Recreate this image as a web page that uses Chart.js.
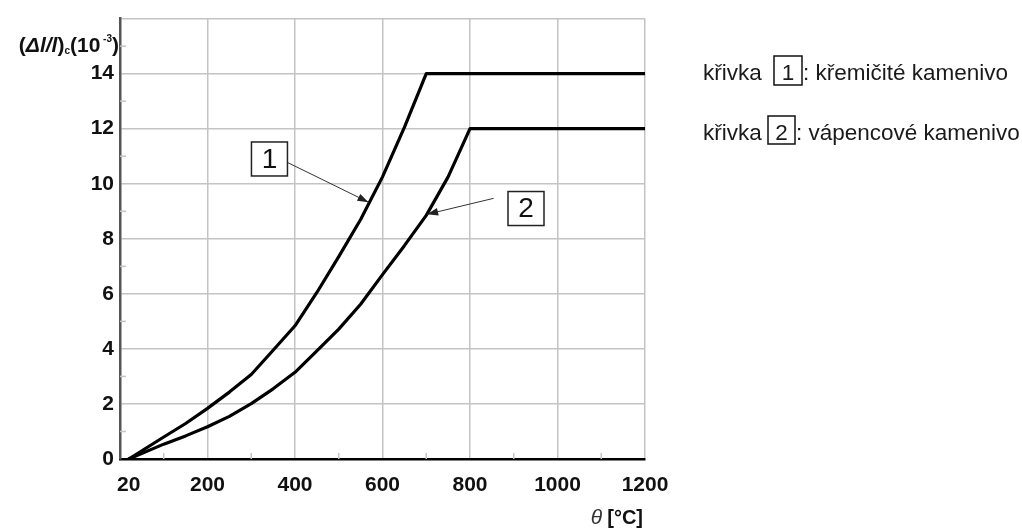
<!DOCTYPE html>
<html><head><meta charset="utf-8">
<script src="https://cdn.jsdelivr.net/npm/chart.js@4/dist/chart.umd.min.js"></script>
<style>html,body{margin:0;padding:0;background:#fff;}canvas{display:block;}</style>
</head><body>
<canvas id="c" width="1022" height="532"></canvas>
<script>
// ---- data ----
const temperatures = [20, 100, 150, 200, 250, 300, 350, 400, 450, 500, 550, 600, 650, 700, 750, 800, 1200];
const curve1 = [0, 0.8, 1.29, 1.84, 2.43, 3.07, 3.95, 4.84, 6.05, 7.35, 8.7, 10.25, 12.05, 14, 14, 14, 14];
const curve2 = [0, 0.54, 0.84, 1.17, 1.55, 2.01, 2.55, 3.15, 3.93, 4.72, 5.62, 6.7, 7.75, 8.85, 10.25, 12, 12];
const xTickValues = [20, 200, 400, 600, 800, 1000, 1200];
const xMinorValues = [100, 300, 500, 700, 900, 1100];
const yMinorValues = [1, 3, 5, 7, 9, 11, 13, 15];
const curveNames = ['1', '2'];
const curveDescriptions = ['křemičité kamenivo', 'vápencové kamenivo'];
const legendWord = 'křivka';

// callout positions (data units)
const callouts = [
  {label: curveNames[0], box: {x: 341.6, y: 10.9}, from: {x: 373, y: 10.85}, to: {x: 568, y: 9.33}},
  {label: curveNames[1], box: {x: 928, y: 9.1}, from: {x: 854, y: 9.47}, to: {x: 702, y: 8.89}}
];

const FONT = "'Liberation Sans', Arial, sans-serif";
const pts = (xs, ys) => xs.map((x, i) => ({x, y: ys[i]}));

const extras = {
  id: 'extras',
  afterDatasetsDraw(chart) {
    const {ctx, chartArea: a, scales: {x, y}} = chart;
    ctx.save();
    // minor ticks
    ctx.strokeStyle = '#c4c4c4';
    ctx.lineWidth = 1.5;
    yMinorValues.forEach(v => {
      const py = y.getPixelForValue(v);
      ctx.beginPath(); ctx.moveTo(a.left, py); ctx.lineTo(a.left + 6, py); ctx.stroke();
    });
    xMinorValues.forEach(v => {
      const px = x.getPixelForValue(v);
      ctx.beginPath(); ctx.moveTo(px, a.bottom); ctx.lineTo(px, a.bottom - 6); ctx.stroke();
    });
    // callouts
    callouts.forEach(c => {
      const fx = x.getPixelForValue(c.from.x), fy = y.getPixelForValue(c.from.y);
      const tx = x.getPixelForValue(c.to.x), ty = y.getPixelForValue(c.to.y);
      ctx.strokeStyle = '#333'; ctx.fillStyle = '#222'; ctx.lineWidth = 1;
      ctx.beginPath(); ctx.moveTo(fx, fy); ctx.lineTo(tx, ty); ctx.stroke();
      const ang = Math.atan2(ty - fy, tx - fx), L = 11, W = 3.8;
      ctx.beginPath();
      ctx.moveTo(tx, ty);
      ctx.lineTo(tx - L * Math.cos(ang) + W * Math.sin(ang), ty - L * Math.sin(ang) - W * Math.cos(ang));
      ctx.lineTo(tx - L * Math.cos(ang) - W * Math.sin(ang), ty - L * Math.sin(ang) + W * Math.cos(ang));
      ctx.closePath(); ctx.fill();
      const bx = x.getPixelForValue(c.box.x), by = y.getPixelForValue(c.box.y);
      ctx.fillStyle = '#fff';
      ctx.fillRect(bx - 18, by - 17, 36, 34);
      ctx.strokeStyle = '#222'; ctx.lineWidth = 1.5;
      ctx.strokeRect(bx - 18, by - 17, 36, 34);
      ctx.fillStyle = '#111';
      ctx.font = '28px ' + FONT;
      ctx.textAlign = 'center'; ctx.textBaseline = 'middle';
      ctx.fillText(c.label, bx, by + 1);
    });
    ctx.restore();
  },
  afterDraw(chart) {
    const {ctx} = chart;
    ctx.save();
    ctx.fillStyle = '#111';
    ctx.textBaseline = 'middle';
    // y-axis title: (Δl/l)c(10^-3)
    const parts = [
      {t: '(', f: 'bold 21px ' + FONT, dy: 0},
      {t: 'Δl/l', f: 'italic bold 21px ' + FONT, dy: 0},
      {t: ')', f: 'bold 21px ' + FONT, dy: 0},
      {t: 'c', f: 'bold 10px ' + FONT, dy: 5},
      {t: '(10', f: 'bold 21px ' + FONT, dy: 0},
      {t: ' -3', f: 'bold 10px ' + FONT, dy: -7},
      {t: ')', f: 'bold 21px ' + FONT, dy: 0}
    ];
    let total = 0;
    parts.forEach(p => { ctx.font = p.f; p.w = ctx.measureText(p.t).width; total += p.w; });
    let cx = 119 - total;
    ctx.textAlign = 'left';
    parts.forEach(p => { ctx.font = p.f; ctx.fillText(p.t, cx, 46 + p.dy); cx += p.w; });
    // x-axis title: θ [°C]
    ctx.textAlign = 'right';
    ctx.font = 'bold 20px ' + FONT;
    const unit = '[°C]';
    const uw = ctx.measureText(unit).width;
    ctx.fillText(unit, 643, 518);
    ctx.font = 'italic 21px ' + FONT;
    ctx.fillStyle = '#333';
    ctx.fillText('θ', 643 - uw - 5, 518);
    // legend on the right
    const rows = [
      {base: 80, boxL: 774, boxW: 28, boxT: 56, boxH: 29},
      {base: 140, boxL: 768, boxW: 27, boxT: 116, boxH: 28}
    ];
    ctx.textBaseline = 'alphabetic';
    ctx.font = '22.5px ' + FONT;
    rows.forEach((r, i) => {
      ctx.fillStyle = '#1a1a1a';
      ctx.textAlign = 'left';
      ctx.fillText(legendWord, 703, r.base);
      ctx.strokeStyle = '#111'; ctx.lineWidth = 1.5;
      ctx.strokeRect(r.boxL, r.boxT, r.boxW, r.boxH);
      ctx.textAlign = 'center';
      ctx.fillText(curveNames[i], r.boxL + r.boxW / 2, r.base);
      ctx.textAlign = 'left';
      ctx.fillText(': ' + curveDescriptions[i], r.boxL + r.boxW + 1, r.base);
    });
    ctx.restore();
  }
};

new Chart(document.getElementById('c'), {
  type: 'line',
  data: {
    datasets: [
      {label: curveNames[0], data: pts(temperatures, curve1)},
      {label: curveNames[1], data: pts(temperatures, curve2)}
    ].map(d => Object.assign(d, {borderColor: '#000', borderWidth: 3.2, pointRadius: 0, tension: 0, fill: false, borderJoinStyle: 'round', borderCapStyle: 'round'}))
  },
  options: {
    responsive: false,
    animation: false,
    devicePixelRatio: 1,
    layout: {padding: {left: 0, top: 15, right: 377, bottom: 0}},
    plugins: {legend: {display: false}, tooltip: {enabled: false}, title: {display: false}},
    scales: {
      x: {
        type: 'linear', min: 0, max: 1200,
        afterBuildTicks: s => { s.ticks = xTickValues.map(v => ({value: v})); },
        afterFit: s => { s.height = 73; },
        grid: {color: c => (c.tick && c.tick.value === 20) ? 'rgba(0,0,0,0)' : '#c4c4c4', lineWidth: 1.5, drawTicks: false},
        border: {color: '#000', width: 2.5},
        ticks: {font: {family: FONT, size: 21, weight: 'bold'}, color: '#111', padding: 14, maxRotation: 0, autoSkip: false,
          callback: v => String(v)}
      },
      y: {
        min: 0, max: 16,
        afterFit: s => { s.width = 120; },
        grid: {color: '#c4c4c4', lineWidth: 1.5, drawTicks: false},
        border: {color: '#555', width: 2.5},
        ticks: {stepSize: 2, font: {family: FONT, size: 21, weight: 'bold'}, color: '#111', padding: 6,
          callback: v => v === 16 ? '' : String(v)}
      }
    }
  },
  plugins: [extras]
});
</script>
</body></html>
